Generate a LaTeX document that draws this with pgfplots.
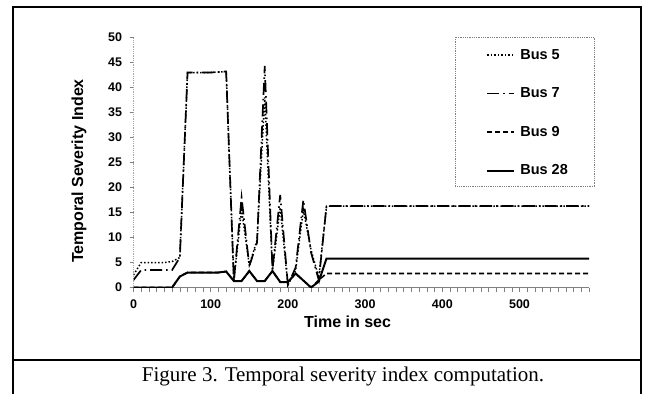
\documentclass[border=0pt]{standalone}
\usepackage{fontspec}
\setmainfont{Liberation Sans}
\newfontfamily\capfont{Liberation Serif}
\usepackage{pgfplots}
\pgfplotsset{compat=1.18}
\begin{document}
\begin{tikzpicture}[x=1pt,y=1pt]
\useasboundingbox (0,0) rectangle (652,-394);
% frame
\draw[line width=2pt] (13,-394) -- (13,-6.6) -- (641,-6.6) -- (641,-394);
\draw[line width=2pt] (13,-360) -- (641,-360);
\node[font=\capfont\fontsize{21}{23}\selectfont] at (343,-376) {Figure 3. Temporal severity index computation.};
\begin{axis}[
  at={(133.5pt,-287.5pt)}, anchor=south west,
  scale only axis, width=455.5pt, height=250pt,
  xmin=0, xmax=590, ymin=0, ymax=50,
  axis lines=left, axis line style={-},
  x axis line style={gray, line width=0.8pt},
  y axis line style={gray!70, densely dotted, line width=0.8pt},
  xtick={0,100,...,500}, minor xtick={0,10,...,590},
  ytick={0,5,...,50},
  tick align=outside, major tick length=4pt, minor tick length=4pt,
  tick style={gray, line width=0.6pt},
  /pgf/number format/assume math mode=true,
  tick label style={font=\fontsize{12.5}{14}\selectfont\bfseries},
  xticklabel style={yshift=-4.5pt},
  yticklabel style={xshift=-4pt},
  xlabel={Time in sec}, ylabel={Temporal Severity Index},
  label style={font=\fontsize{16}{18}\selectfont\bfseries},
  xlabel style={at={(axis description cs:0.47,-0.138)}, anchor=center},
  ylabel style={at={(axis description cs:-0.1197,0.466)}, anchor=center},
  legend image code/.code={\draw[#1] (0pt,0pt) -- (27pt,0pt);},
  legend cell align=left,
  legend style={draw=none, fill=none, at={(axis description cs:0.706,0.962)}, anchor=north west,
    inner xsep=31pt, inner ysep=0pt, row sep=23pt, column sep=3pt,
    font=\fontsize{14.5}{16}\selectfont\bfseries},
]
\addplot[black, line width=1.5pt, dotted] coordinates {
(0,2.5) (10,5.0) (20,5.0) (30,5.0) (40,5.0) (50,5.2) (60,6.0) (70,43.0) (80,43.0) (90,43.0) (100,43.0) (110,43.1) (120,43.2)
(130,1.5) (140,15.5) (150,4.5) (160,9.5) (170,38) (180,3.5) (190,16) (200,0.5) (210,3.5) (220,15.5) (230,7.5) (240,2.0)
(250,16.3) (590,16.3)};
\addlegendentry{Bus 5}
\addplot[black, line width=1.7pt, dash pattern=on 12pt off 4pt on 1.5pt off 4pt] coordinates {
(0,1.5) (10,3.5) (20,3.5) (30,3.5) (40,3.5) (50,3.5) (60,6.0) (70,43.0) (80,43.0) (90,43.0) (100,43.0) (110,43.1) (120,43.2)
(130,1.3) (140,18) (150,4.3) (160,9) (170,44.3) (180,3.5) (190,18.5) (200,0.5) (210,4) (220,17.5) (230,7) (240,1.5)
(250,16.3) (590,16.3)};
\addlegendentry{Bus 7}
\addplot[black, line width=1.6pt, dash pattern=on 5pt off 3pt] coordinates {
(0,0) (50,0) (60,2.2) (70,3.0) (80,3.0) (90,3.0) (100,3.0) (110,3.0) (120,3.2) (130,1.3) (140,1.3) (150,3.3) (160,1.3)
(170,1.3) (180,3.3) (190,1.1) (200,1.1) (210,2.8) (220,1.4) (230,0) (240,1.5) (250,2.8) (590,2.8)};
\addlegendentry{Bus 9}
\addplot[black, line width=2pt, solid] coordinates {
(0,0) (50,0) (60,2.2) (70,3.0) (80,3.0) (90,3.0) (100,3.0) (110,3.0) (120,3.2) (130,1.3) (140,1.3) (150,3.3) (160,1.3)
(170,1.3) (180,3.3) (190,1.1) (200,1.1) (210,2.8) (220,1.4) (230,0) (240,1.2) (250,5.8) (590,5.8)};
\addlegendentry{Bus 28}
\end{axis}
\draw[gray, densely dotted, line width=0.8pt] (455,-37) rectangle (594,-186);
\end{tikzpicture}
\end{document}
